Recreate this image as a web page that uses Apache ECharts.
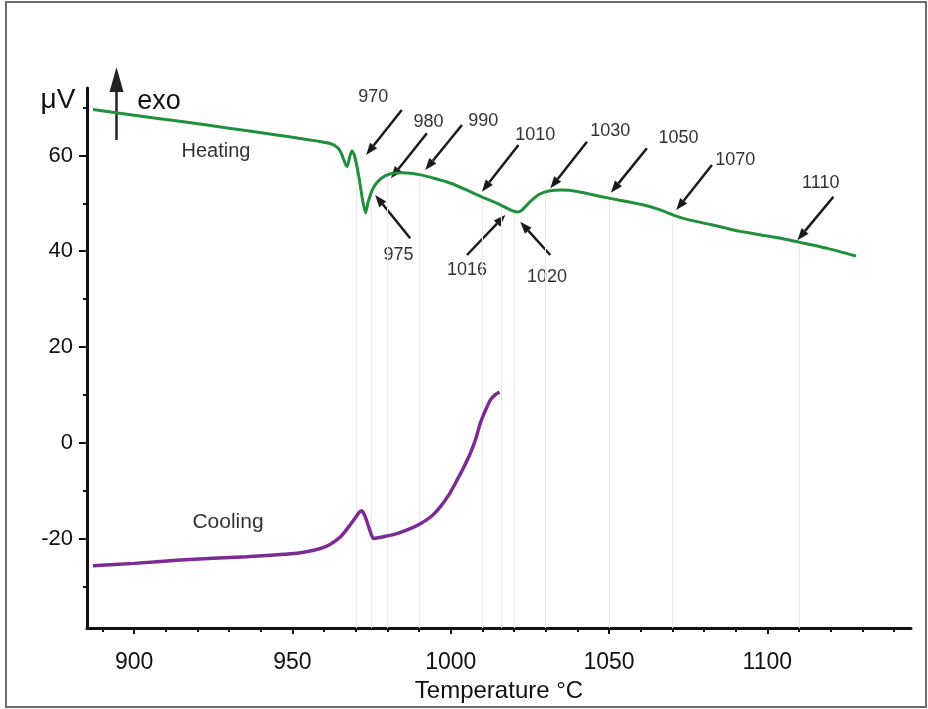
<!DOCTYPE html>
<html>
<head>
<meta charset="utf-8">
<script src="https://cdn.jsdelivr.net/npm/echarts@6/dist/echarts.min.js"></script>
<style>
  html, body { margin: 0; padding: 0; background: #fff; }
  #chart { width: 928px; height: 709px; }
</style>
</head>
<body>
<div id="chart"></div>
<script>
// DTA signal on heating (µV) vs temperature (°C)
const heatingTemp = [887, 900, 915, 930, 945, 952, 958, 962, 964.5, 965.6, 966.7, 967.3, 968.1, 968.8, 969.6, 971, 972.2, 973.1, 974, 975.6, 978, 981, 985, 990, 995, 1000, 1005, 1010, 1015, 1019, 1021, 1022.5, 1025, 1028, 1031, 1035, 1040, 1047, 1053, 1060, 1066, 1071, 1075, 1082, 1089, 1092, 1098, 1105, 1110, 1119, 1128];
const heatingSignal = [69.6, 68.4, 67.1, 65.7, 64.3, 63.6, 63.0, 62.5, 61.5, 60.2, 58.3, 57.7, 59.8, 61.0, 60.0, 55.5, 50.5, 48.0, 50.5, 53.3, 55.2, 56.2, 56.4, 56.0, 55.2, 54.2, 52.8, 51.3, 49.9, 48.6, 48.2, 48.6, 50.3, 51.9, 52.6, 52.8, 52.5, 51.5, 50.7, 49.8, 48.7, 47.4, 46.6, 45.6, 44.5, 44.1, 43.4, 42.6, 41.9, 40.6, 39.0];

// DTA signal on cooling (µV) vs temperature (°C)
const coolingTemp = [887, 900, 914.5, 935.6, 951.4, 958.8, 962, 965.1, 967.5, 969.3, 971, 971.9, 972.7, 973.5, 974.6, 975.6, 979, 983, 987, 990.4, 994, 996.7, 999.5, 1002, 1004.2, 1006.2, 1008, 1009.3, 1011, 1012.5, 1014, 1015.4];
const coolingSignal = [-25.7, -25.2, -24.5, -23.8, -23.1, -22.1, -21.2, -19.7, -17.8, -16.2, -14.6, -14.2, -15.0, -16.4, -18.6, -20.0, -19.6, -19.0, -18.0, -16.9, -15.3, -13.4, -10.8, -7.8, -5.0, -2.2, 1.0, 4.0, 6.8, 8.9, 10.0, 10.6];

// Temperatures marked with arrows on the heating curve
const calloutTemps = [970, 975, 980, 990, 1010, 1016, 1020, 1030, 1050, 1070, 1110];

// Axis ticks
const xMajorTicks = [900, 950, 1000, 1050, 1100];
const xMinorTicks = [890, 910, 920, 930, 940, 960, 970, 980, 990, 1010, 1020, 1030, 1040, 1060, 1070, 1080, 1090, 1110, 1120, 1130, 1140];
const yMajorTicks = [-20, 0, 20, 40, 60];
const yMinorTicks = [-30, -10, 10, 30, 50, 70];

// Pixel offsets of each callout relative to its point on the curve:
// arrow tip, arrow tail, label centre
const calloutLayout = [
  { tip: [10.4, -6.7], tail: [46, -51.7], label: [17.4, -64.7] },
  { tip: [3.6, 2.4], tail: [38.6, 45.7], label: [26.9, 62.4] },
  { tip: [3.5, 3], tail: [39.5, -42], label: [41.1, -52.8] },
  { tip: [6.2, -4.6], tail: [42.9, -49.6], label: [64.2, -53.8] },
  { tip: [-0.5, -5.4], tail: [36.1, -52.1], label: [52.8, -62.1] },
  { tip: [3.9, 9.6], tail: [-34.4, 49.6], label: [-34.4, 64.6] },
  { tip: [6.2, 10.7], tail: [36.2, 44], label: [32.9, 65.7] },
  { tip: [4.6, -3.7], tail: [41.3, -50.3], label: [64.6, -61] },
  { tip: [1.9, -5.4], tail: [37.9, -49.8], label: [69.5, -59.8] },
  { tip: [3.9, -4.5], tail: [39.6, -49.5], label: [62.9, -54.5] },
  { tip: [-1.5, -2], tail: [34.5, -45.4], label: [21.8, -58.8] }
];

const X_MIN = 885.1, X_MAX = 1145.4, Y_MIN = -38.7, Y_MAX = 74.1;
const FONT = "'Liberation Sans', Arial, sans-serif";
const AXIS_COLOR = '#111';

function interpHeating(t) {
  for (let i = 0; i < heatingTemp.length - 1; i++) {
    const a = heatingTemp[i], b = heatingTemp[i + 1];
    if (t >= a && t <= b) {
      const f = (t - a) / (b - a);
      return heatingSignal[i] + f * (heatingSignal[i + 1] - heatingSignal[i]);
    }
  }
  return heatingSignal[heatingSignal.length - 1];
}

const chart = echarts.init(document.getElementById('chart'), null, { renderer: 'canvas' });

const baseX = {
  type: 'value', min: X_MIN, max: X_MAX, position: 'bottom', offset: 0,
  splitLine: { show: false }
};
const baseY = {
  type: 'value', min: Y_MIN, max: Y_MAX, position: 'left', offset: 0,
  splitLine: { show: false }
};

const guideLines = calloutTemps.map(t => [
  { coord: [t, interpHeating(t)] },
  { coord: [t, Y_MIN] }
]);

chart.setOption({
  animation: false,
  backgroundColor: '#fff',
  grid: { left: 87, right: 17, top: 88, bottom: 81, containLabel: false },
  xAxis: [
    Object.assign({}, baseX, {
      axisLine: { show: true, onZero: false, lineStyle: { color: AXIS_COLOR, width: 3 } },
      axisTick: { show: true, customValues: xMajorTicks, length: 6, lineStyle: { color: AXIS_COLOR, width: 2 } },
      axisLabel: { customValues: xMajorTicks, fontSize: 23, color: AXIS_COLOR, margin: 23, fontFamily: FONT, formatter: v => String(v) },
      name: 'Temperature °C', nameLocation: 'middle', nameGap: 48,
      nameTextStyle: { fontSize: 24, color: AXIS_COLOR, fontFamily: FONT }
    }),
    Object.assign({}, baseX, {
      axisLine: { show: false, onZero: false },
      axisTick: { show: true, customValues: xMinorTicks, length: 4, lineStyle: { color: AXIS_COLOR, width: 2 } },
      axisLabel: { show: false }
    })
  ],
  yAxis: [
    Object.assign({}, baseY, {
      axisLine: { show: true, onZero: false, lineStyle: { color: AXIS_COLOR, width: 3 } },
      axisTick: { show: true, customValues: yMajorTicks, length: 8, lineStyle: { color: AXIS_COLOR, width: 2 } },
      axisLabel: { customValues: yMajorTicks, fontSize: 22, color: AXIS_COLOR, margin: 14, fontFamily: FONT, formatter: v => String(v) }
    }),
    Object.assign({}, baseY, {
      axisLine: { show: false, onZero: false },
      axisTick: { show: true, customValues: yMinorTicks, length: 4, lineStyle: { color: AXIS_COLOR, width: 2 } },
      axisLabel: { show: false }
    })
  ],
  series: [
    {
      name: 'Heating', type: 'line', xAxisIndex: 0, yAxisIndex: 0,
      data: heatingTemp.map((t, i) => [t, heatingSignal[i]]),
      showSymbol: false, smooth: 0.2, z: 5,
      lineStyle: { color: '#21903d', width: 3 },
      markLine: {
        silent: true, symbol: 'none', label: { show: false },
        lineStyle: { color: '#e9e9e9', width: 1, type: 'solid' },
        data: guideLines, z: 1
      }
    },
    {
      name: 'Cooling', type: 'line', xAxisIndex: 0, yAxisIndex: 0,
      data: coolingTemp.map((t, i) => [t, coolingSignal[i]]),
      showSymbol: false, smooth: 0.2, z: 5,
      lineStyle: { color: '#7c2b94', width: 3.5 }
    }
  ]
});

// Callout arrows, labels and annotations, placed through the axis scales
const graphics = [
  { type: 'rect', shape: { x: 6, y: 2, width: 920, height: 705 }, style: { fill: 'none', stroke: '#6b6b6b', lineWidth: 2 }, z: 100 },
  { type: 'text', x: 58, y: 100, style: { text: 'μV', font: "28px " + FONT, fill: AXIS_COLOR, textAlign: 'center', textVerticalAlign: 'middle' } },
  { type: 'line', shape: { x1: 116.5, y1: 140, x2: 116.5, y2: 88 }, style: { stroke: '#222', lineWidth: 2.5 } },
  { type: 'polygon', shape: { points: [[116.5, 67], [109.5, 92], [123.5, 92]] }, style: { fill: '#222' } },
  { type: 'text', x: 159, y: 102, style: { text: 'exo', font: "27px " + FONT, fill: AXIS_COLOR, textAlign: 'center', textVerticalAlign: 'middle' } },
  { type: 'text', x: 216, y: 151, style: { text: 'Heating', font: "20px " + FONT, fill: '#333', textAlign: 'center', textVerticalAlign: 'middle' } },
  { type: 'text', x: 228, y: 522, style: { text: 'Cooling', font: "21px " + FONT, fill: '#333', textAlign: 'center', textVerticalAlign: 'middle' } }
];

calloutTemps.forEach((t, i) => {
  const p = chart.convertToPixel({ xAxisIndex: 0, yAxisIndex: 0 }, [t, interpHeating(t)]);
  const L = calloutLayout[i];
  const tip = [p[0] + L.tip[0], p[1] + L.tip[1]];
  const tail = [p[0] + L.tail[0], p[1] + L.tail[1]];
  const dx = tip[0] - tail[0], dy = tip[1] - tail[1];
  const len = Math.hypot(dx, dy);
  const ux = dx / len, uy = dy / len;
  const headLen = 12, headHalf = 4.5;
  const base = [tip[0] - ux * headLen, tip[1] - uy * headLen];
  graphics.push({
    type: 'line', shape: { x1: tail[0], y1: tail[1], x2: base[0], y2: base[1] },
    style: { stroke: '#1a1a1a', lineWidth: 2.5 }
  });
  graphics.push({
    type: 'polygon',
    shape: { points: [tip, [base[0] - uy * headHalf, base[1] + ux * headHalf], [base[0] + uy * headHalf, base[1] - ux * headHalf]] },
    style: { fill: '#1a1a1a' }
  });
  graphics.push({
    type: 'text', x: p[0] + L.label[0], y: p[1] + L.label[1],
    style: { text: String(t), font: "18px " + FONT, fill: '#333', textAlign: 'center', textVerticalAlign: 'middle' }
  });
});

chart.setOption({ graphic: graphics });
</script>
</body>
</html>
